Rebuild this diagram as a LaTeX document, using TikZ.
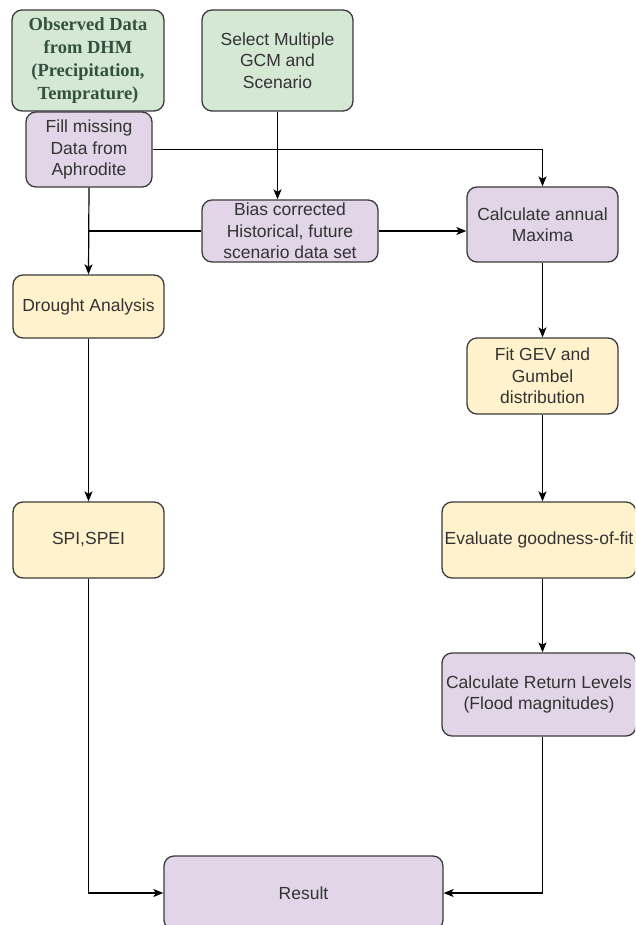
\documentclass[tikz,border=0pt]{standalone}
\usepackage{fontspec}
\setmainfont{Liberation Sans}
\newfontfamily\obsfont{Liberation Serif}
\usetikzlibrary{arrows.meta}
\definecolor{boxgreen}{HTML}{D5E8D4}
\definecolor{boxpurple}{HTML}{E1D5E7}
\definecolor{boxyellow}{HTML}{FFF2CC}
\definecolor{boxline}{HTML}{3A3A3A}
\definecolor{obstext}{HTML}{34503F}
\begin{document}
\begin{tikzpicture}[x=1pt, y=-1pt,
    box/.style={draw=boxline, line width=1.3pt, rounded corners=10pt, align=center,
      inner sep=0pt, text=black!80, font=\fontsize{17.5}{21.5}\selectfont},
    greenbox/.style={box, fill=boxgreen},
    purplebox/.style={box, fill=boxpurple},
    yellowbox/.style={box, fill=boxyellow},
    flow/.style={line width=1.2pt, -{Stealth[length=10pt, width=8pt, inset=2.5pt]}},
    plain/.style={line width=1.2pt}]
        \useasboundingbox (0,0) rectangle (635,925);
        \clip (0,0) rectangle (635,925);
        \fill [white] (0,0) rectangle (635,925);

        \node [greenbox, minimum width=152pt, minimum height=101pt,
          text=obstext, font=\obsfont\bfseries\fontsize{18.5}{23}\selectfont] (observed) at (88,60.5)
          {Observed Data\\from DHM\\(Precipitation,\\Temprature)};
        \node [greenbox, minimum width=151pt, minimum height=101pt] (gcm) at (277.5,60.5)
          {Select Multiple\\GCM and\\Scenario};
        \node [purplebox, minimum width=126pt, minimum height=75pt] (fill) at (89,149.5)
          {Fill missing\\Data from\\Aphrodite};

        \node [purplebox, minimum width=176pt, minimum height=62pt] (bias) at (290,231)
          {Bias corrected\\Historical, future\\scenario data set};
        \node [purplebox, minimum width=151pt, minimum height=75pt] (maxima) at (542.5,224.5)
          {Calculate annual\\Maxima};

        \node [yellowbox, minimum width=151pt, minimum height=63pt] (drought) at (88.5,306.5)
          {Drought Analysis};
        \node [yellowbox, minimum width=151pt, minimum height=76pt] (fit) at (542.5,376)
          {Fit GEV and\\Gumbel\\distribution};

        \node [yellowbox, minimum width=151pt, minimum height=76pt] (spi) at (88.5,540)
          {SPI,SPEI};
        \node [yellowbox, minimum width=194pt, minimum height=76pt] (goodness) at (539,540)
          {Evaluate goodness-of-fit};

        \node [purplebox, minimum width=194pt, minimum height=83pt] (levels) at (539,694.5)
          {Calculate Return Levels\\(Flood magnitudes)};
        \node [purplebox, minimum width=279pt, minimum height=74pt] (result) at (303.5,893)
          {Result};

        \draw [flow] (fill.east) -| (maxima.north);
        \draw [flow] (gcm.south) -- (gcm.south |- bias.north);
        \draw [flow] (bias.east) -- (bias.east -| maxima.west);
        \draw [plain] (bias.west) -- (bias.west -| fill.south);
        \draw [flow] (fill.south) -- (drought.north);
        \draw [flow] (drought.south) -- (spi.north);
        \draw [flow] (maxima.south) -- (fit.north);
        \draw [flow] (fit.south) -- (fit.south |- goodness.north);
        \draw [flow] (fit.south |- goodness.south) -- (fit.south |- levels.north);
        \draw [flow] (spi.south) |- (result.west);
        \draw [flow] (fit.south |- levels.south) |- (result.east);
      \end{tikzpicture}
\end{document}
